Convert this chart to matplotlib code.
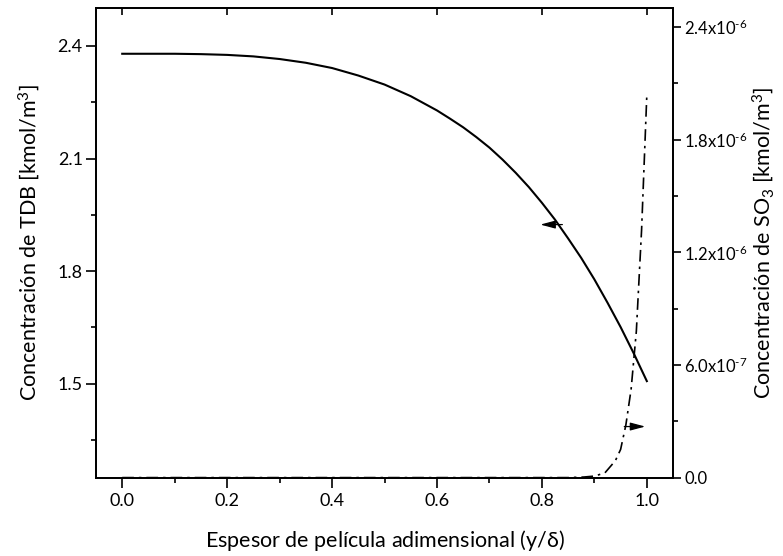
"""Perfil de concentración de TDB y SO3 a lo largo de la película."""

import matplotlib

matplotlib.use("Agg")
import matplotlib.pyplot as plt
from matplotlib.lines import TICKDOWN
from matplotlib.ticker import AutoMinorLocator, MultipleLocator

plt.rcParams["font.family"] = ["Lato", "DejaVu Sans"]
plt.rcParams["mathtext.default"] = "regular"

# Concentración de TDB [kmol/m3] frente al espesor adimensional
y_tdb = [0.0, 0.05, 0.1, 0.15, 0.2, 0.25, 0.3, 0.35, 0.4, 0.45, 0.5, 0.55, 0.6,
         0.625, 0.65, 0.675, 0.7, 0.725, 0.75, 0.775, 0.8, 0.825, 0.85, 0.875,
         0.9, 0.925, 0.95, 0.975, 1.0]
c_tdb = [2.379, 2.379, 2.379, 2.378, 2.376, 2.372, 2.365, 2.355, 2.341, 2.321, 2.297,
         2.266, 2.228, 2.206, 2.183, 2.157, 2.129, 2.097, 2.062, 2.024, 1.982, 1.937,
         1.887, 1.835, 1.778, 1.716, 1.651, 1.581, 1.507]

# Concentración de SO3 [kmol/m3]
y_so3 = [0.0, 0.2, 0.4, 0.6, 0.8, 0.85, 0.88, 0.9, 0.92, 0.94, 0.95,
         0.96, 0.97, 0.98, 0.99, 1.0]
c_so3 = [0.0, 0.0, 0.0, 0.0, 0.0, 0.0, 3e-9, 8e-9, 2.5e-8, 9e-8, 1.5e-7,
         2.8e-7, 4.7e-7, 7.8e-7, 1.32e-6, 2.04e-6]

so3_ticks = [0.0, 6e-7, 1.2e-6, 1.8e-6, 2.4e-6]
so3_labels = ["0.0", "6.0x10$^{\u20107}$", "1.2x10$^{\u20106}$",
              "1.8x10$^{\u20106}$", "2.4x10$^{\u20106}$"]

fig = plt.figure(figsize=(7.83, 5.56), dpi=100)
ax = fig.add_axes([0.1226, 0.141, 0.737, 0.844])
ax2 = ax.twinx()

ax.plot(y_tdb, c_tdb, color="black", linewidth=1.5)
ax2.plot(y_so3, c_so3, color="black", linewidth=1.2, linestyle=(0, (7, 3, 1.5, 3)))

ax.set_xlim(-0.05, 1.05)
ax.set_ylim(1.25, 2.5)
ax2.set_ylim(0.0, 2.5e-6)

ax.xaxis.set_major_locator(MultipleLocator(0.2))
ax.xaxis.set_minor_locator(AutoMinorLocator(2))
ax.yaxis.set_major_locator(MultipleLocator(0.3))
ax.yaxis.set_minor_locator(AutoMinorLocator(2))
ax.xaxis.set_major_formatter(lambda v, pos: f"{v:.1f}")
ax.yaxis.set_major_formatter(lambda v, pos: f"{v:.1f}")
ax2.set_yticks(so3_ticks, so3_labels)
ax2.yaxis.set_minor_locator(AutoMinorLocator(2))

for a in (ax, ax2):
    for spine in a.spines.values():
        spine.set_linewidth(1.3)
ax.tick_params(axis="both", which="major", direction="out", length=7, width=1.2,
               labelsize=13)
ax.tick_params(axis="both", which="minor", direction="out", length=3.6, width=1.2)
ax.tick_params(axis="x", which="major", top=True, pad=4)
ax.tick_params(axis="y", which="major", pad=2.5)
ax.tick_params(axis="y", which="both", right=False)
ax2.tick_params(axis="y", which="major", direction="out", length=6, width=1.2,
                labelsize=12, pad=2)
ax2.tick_params(axis="y", which="minor", direction="out", length=3.6, width=1.2)

# marcas del eje superior hacia dentro
for tick in ax.xaxis.get_major_ticks():
    tick.tick2line.set_marker(TICKDOWN)
    tick.tick2line.set_markersize(5)

ax.set_xlabel(r"Espesor de película adimensional (y/$\delta$)", fontsize=15.5, labelpad=14)
ax.set_ylabel(r"Concentración de TDB [kmol/m$^3$]", fontsize=15.5)
ax2.set_ylabel(r"Concentración de SO$_3$ [kmol/m$^3$]", fontsize=15.5)
ax.yaxis.set_label_coords(-0.094, 0.5)
ax2.yaxis.set_label_coords(1.134, 0.5)

# flechas que indican a qué eje pertenece cada curva
arrow = dict(arrowstyle="-|>,head_length=0.75,head_width=0.2", color="black",
             linewidth=0.9, mutation_scale=12, shrinkA=0, shrinkB=0)
ax.annotate("", xy=(0.797, 1.924), xytext=(0.839, 1.924), arrowprops=arrow)
ax2.annotate("", xy=(0.997, 2.72e-7), xytext=(0.957, 2.72e-7), arrowprops=arrow)

fig.savefig("out.png", dpi=100)
